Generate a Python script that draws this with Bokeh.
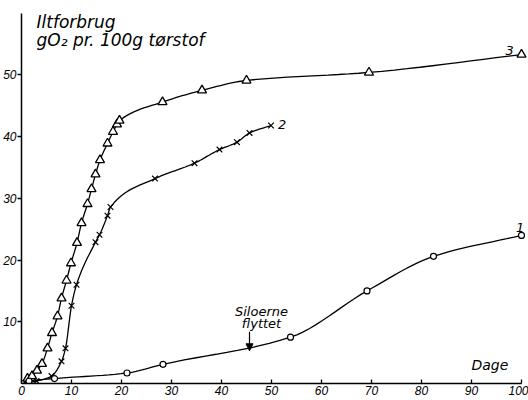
import numpy as np
from bokeh.plotting import figure
from bokeh.models import Range1d, FixedTicker, Label, Arrow, NormalHead
from bokeh.embed import file_html
from bokeh.resources import INLINE

# ---- data ----
X_TICKS = [0, 10, 20, 30, 40, 50, 60, 70, 80, 90, 100]
Y_TICKS = [10, 20, 30, 40, 50]

S1_X = [0, 1.5, 6.6, 21.1, 28.3, 53.8, 69.1, 82.4, 100]
S1_Y = [0, 0.4, 0.8, 1.7, 3.1, 7.5, 15.0, 20.6, 24.0]

S2_X = [0, 3.0, 6.0, 8.0, 8.8, 10.0, 11.0, 14.8, 15.6, 17.2, 17.8, 26.7, 34.6, 39.6, 43.1, 45.6, 49.9]
S2_Y = [0, 0.4, 1.2, 3.6, 5.7, 12.6, 16.0, 22.9, 24.1, 27.2, 28.6, 33.2, 35.7, 37.9, 39.1, 40.6, 41.8]

S3_X = [0, 1.2, 2.1, 3.1, 4.1, 5.2, 6.1, 7.2, 8.0, 9.0, 9.9, 11.1, 12.0, 13.2, 14.0, 14.8, 15.7,
        17.2, 18.3, 19.1, 19.6, 28.2, 36.1, 45.0, 69.5, 100]
S3_Y = [0, 0.8, 1.2, 2.1, 3.2, 5.7, 8.2, 10.9, 13.8, 16.7, 19.5, 22.8, 26.0, 29.1, 31.5, 33.9, 36.2,
        38.9, 40.8, 42.0, 42.6, 45.6, 47.5, 49.1, 50.4, 53.3]

Y_LABEL_1 = "Iltforbrug"
Y_LABEL_2 = "gO₂ pr. 100g tørstof"
X_LABEL = "Dage"
NOTE = ["Siloerne", "flyttet"]
NOTE_DAY = 45.6
SERIES_NAMES = ["1", "2", "3"]


def pchip_curve(xs, ys, n=12):
    """Monotone cubic (Fritsch-Carlson) curve through the given points, for drawing the line."""
    x = np.asarray(xs, float)
    y = np.asarray(ys, float)
    h = np.diff(x)
    d = np.diff(y) / h
    m = np.zeros_like(x)
    m[0], m[-1] = d[0], d[-1]
    for k in range(1, len(x) - 1):
        if d[k - 1] * d[k] <= 0:
            m[k] = 0.0
        else:
            w1 = 2 * h[k] + h[k - 1]
            w2 = h[k] + 2 * h[k - 1]
            m[k] = (w1 + w2) / (w1 / d[k - 1] + w2 / d[k])
    ox, oy = [], []
    for k in range(len(x) - 1):
        t = np.linspace(0, 1, n, endpoint=False)
        h00 = 2 * t**3 - 3 * t**2 + 1
        h10 = t**3 - 2 * t**2 + t
        h01 = -2 * t**3 + 3 * t**2
        h11 = t**3 - t**2
        ox.extend(x[k] + t * h[k])
        oy.extend(h00 * y[k] + h10 * h[k] * m[k] + h01 * y[k + 1] + h11 * h[k] * m[k + 1])
    ox.append(x[-1])
    oy.append(y[-1])
    return ox, oy


FONT = "DejaVu Sans"
TICK_FONT = "Liberation Sans"

p = figure(width=528, height=400, output_backend="svg", toolbar_location=None,
           x_range=Range1d(0, 101.4), y_range=Range1d(0, 60.6),
           min_border_left=20, min_border_right=0, min_border_top=9, min_border_bottom=17)
p.outline_line_color = None
p.grid.visible = False
p.background_fill_color = "white"

for ax, ticks, bnd in ((p.xaxis, X_TICKS, (0, 100)), (p.yaxis, Y_TICKS, (0, 60))):
    ax.bounds = bnd
    ax.ticker = FixedTicker(ticks=ticks)
    ax.minor_tick_line_color = None
    ax.axis_line_width = 1.5
    ax.axis_line_color = "black"
    ax.major_tick_line_color = "black"
    ax.major_tick_line_width = 1.3
    ax.major_label_text_font = TICK_FONT
    ax.major_label_text_font_style = "italic"
    ax.major_label_text_font_size = "12px"
    ax.major_label_text_color = "black"

p.xaxis.major_tick_in = 4
p.xaxis.major_tick_out = 0
p.xaxis.major_label_standoff = 2
p.yaxis.major_tick_in = 0
p.yaxis.major_tick_out = 4
p.yaxis.major_label_standoff = 1

LW = 1.3
for xs, ys in ((S1_X, S1_Y), (S2_X, S2_Y), (S3_X, S3_Y)):
    cx, cy = pchip_curve(xs, ys)
    p.line(cx, cy, line_color="black", line_width=LW)

p.scatter(S3_X[1:], S3_Y[1:], marker="triangle", size=9, fill_color="white",
          line_color="black", line_width=1.3)
p.scatter(S2_X[1:], S2_Y[1:], marker="x", size=8, line_color="black", line_width=1.2)
p.scatter(S1_X, S1_Y, marker="circle", size=6, fill_color="white",
          line_color="black", line_width=1.2)


def lab(x, y, t, size, align="left"):
    p.add_layout(Label(x=x, y=y, text=t, text_font=FONT, text_font_style="italic",
                       text_font_size=size, text_color="black", text_align=align,
                       text_baseline="alphabetic"))


lab(3.0, 58.6, Y_LABEL_1, "17px")
lab(3.0, 55.6, Y_LABEL_2, "17px")
lab(90.0, 3.0, X_LABEL, "14px")
lab(48.0, 11.6, NOTE[0], "13px", "center")
lab(48.0, 9.8, NOTE[1], "13px", "center")
lab(98.9, 25.2, SERIES_NAMES[0], "13px")
lab(51.3, 42.0, SERIES_NAMES[1], "13px")
lab(96.8, 54.0, SERIES_NAMES[2], "13px")

p.add_layout(Arrow(end=NormalHead(size=7, fill_color="black", line_color="black"),
                   x_start=NOTE_DAY, y_start=8.4, x_end=NOTE_DAY, y_end=5.3,
                   line_width=1.2, line_color="black"))

open("out.html", "w").write(file_html(p, INLINE))
